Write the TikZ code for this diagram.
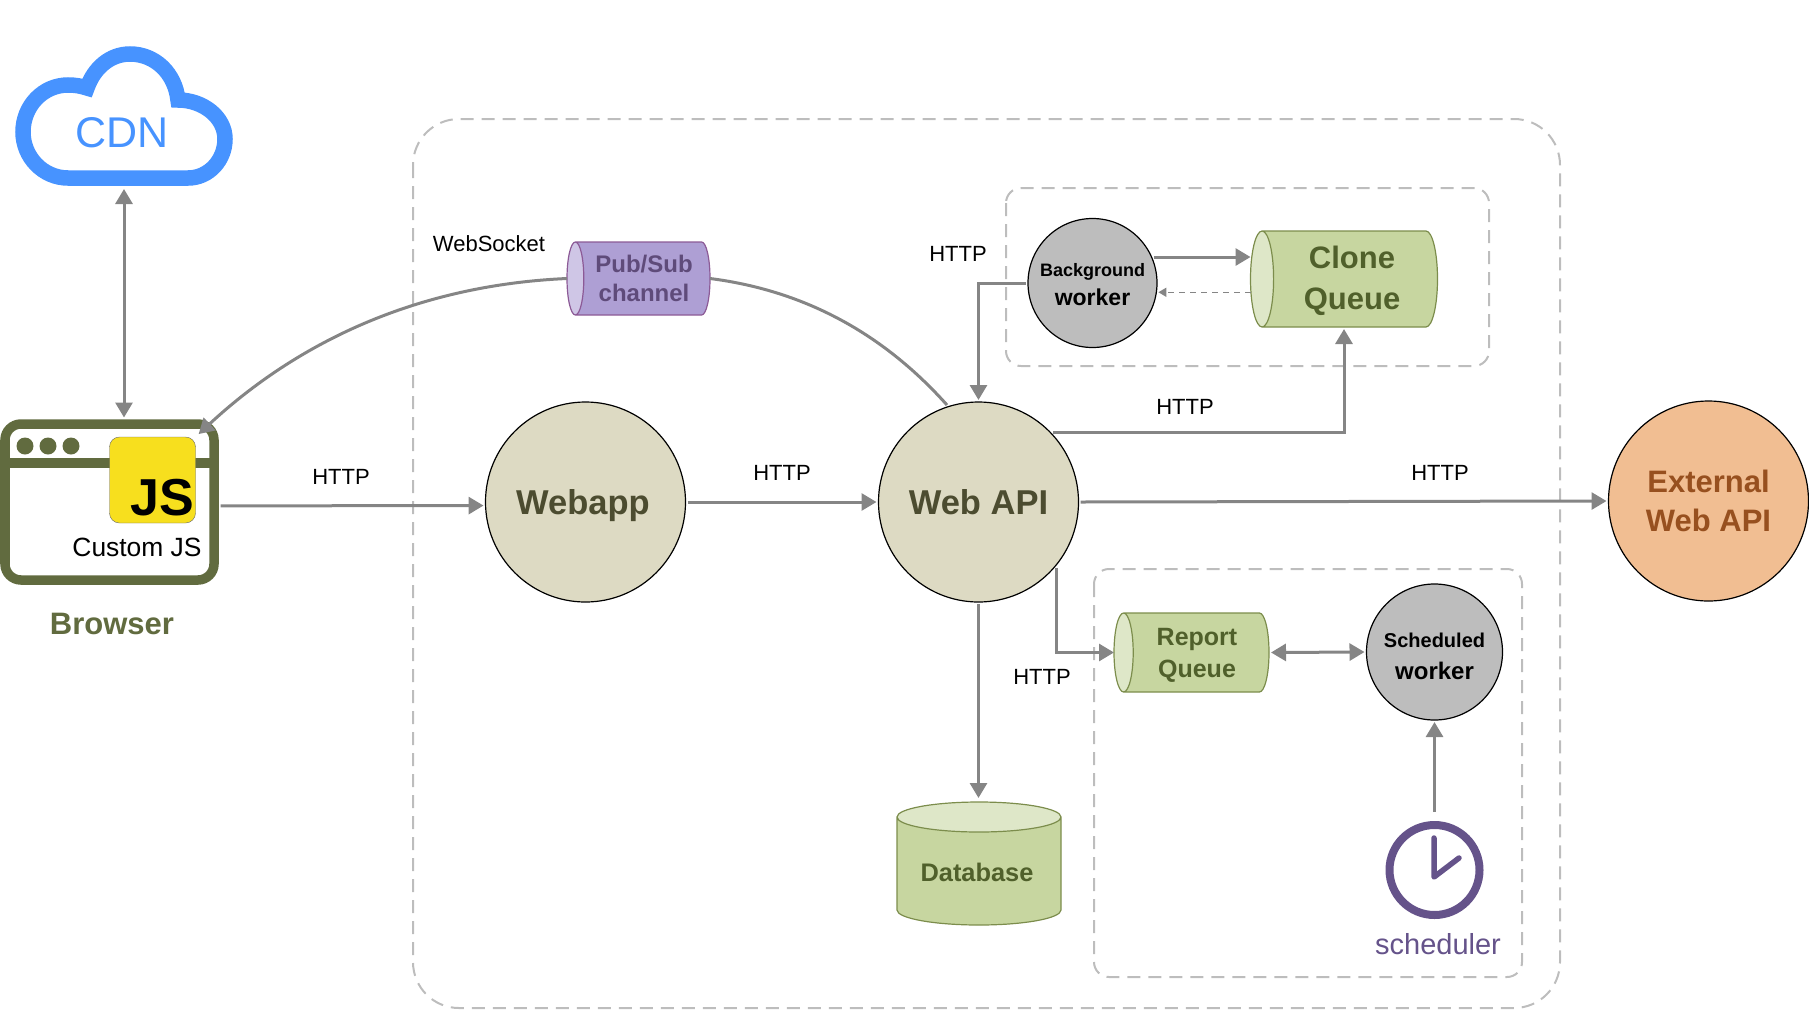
\documentclass[tikz,border=0pt]{standalone}
\usepackage{fontspec}
\setmainfont{Liberation Sans}
\usetikzlibrary{arrows.meta,shapes.geometric}

\definecolor{arrowgrey}{HTML}{858585}
\definecolor{boxgrey}{HTML}{BDBDBD}
\definecolor{cdnblue}{HTML}{4793FF}
\definecolor{browserolive}{HTML}{616B3F}
\definecolor{jsyellow}{HTML}{F7DF1E}
\definecolor{sandfill}{HTML}{DDDAC3}
\definecolor{sandtext}{HTML}{4C4C30}
\definecolor{peachfill}{HTML}{F1BE92}
\definecolor{peachtext}{HTML}{97501F}
\definecolor{greenfill}{HTML}{C7D6A0}
\definecolor{greenend}{HTML}{DEE7C8}
\definecolor{greenline}{HTML}{7C8D4C}
\definecolor{greentext}{HTML}{50602B}
\definecolor{purplefill}{HTML}{AE9FD4}
\definecolor{purpleend}{HTML}{CFC6E6}
\definecolor{purpleline}{HTML}{8C5A96}
\definecolor{purpletext}{HTML}{5F4B7A}
\definecolor{clockpurple}{HTML}{65538A}
\definecolor{workergrey}{HTML}{BDBDBD}

\tikzset{
	label/.style={inner sep=0pt,font=\fontsize{22}{26}\selectfont},
	flow/.style={draw=arrowgrey,line width=3pt,-{Triangle[length=15pt,width=17pt]}},
	biflow/.style={flow,{Triangle[length=15pt,width=17pt]}-{Triangle[length=15pt,width=17pt]}},
	groupbox/.style={draw=boxgrey,line width=2pt,dash pattern=on 13pt off 8pt},
	bigcircle/.style={circle,draw=black,line width=1.2pt,minimum size=200pt,inner sep=0pt,outer sep=2pt,align=center},
	workercircle/.style={circle,draw=black,line width=1.2pt,fill=workergrey,inner sep=0pt,outer sep=2pt},
	workertext/.style={inner sep=0pt,align=center},
	tube/.style={cylinder,anchor=shape center,draw=greenline,line width=1.2pt,inner sep=0pt,outer sep=0pt,
		cylinder uses custom fill,cylinder body fill=greenfill,cylinder end fill=greenend},
	tubetext/.style={inner sep=0pt,align=center,text=greentext},
}

\begin{document}
\begin{tikzpicture}[x=1pt,y=-1pt]
	\useasboundingbox (0,0) rectangle (1809,1010);

	%group boxes
	\draw[groupbox,rounded corners=46pt] (413,119) rectangle (1560,1008);
	\draw[groupbox,rounded corners=15pt] (1006,188) rectangle (1489,366);
	\draw[groupbox,rounded corners=15pt] (1094,569) rectangle (1522,977);

	%cloud
	\draw[cdnblue,line width=15.5pt,miter limit=10] (68,178)--(188,178)
		.. controls (209,178) and (225,160) .. (225,139)
		.. controls (225,117) and (203,100) .. (178,100)
		.. controls (175,73) and (155,54) .. (130,54)
		.. controls (110,54) and (94,68) .. (87,88)
		.. controls (81,86) and (75,85) .. (68,85)
		.. controls (43,85) and (23,106) .. (23,132)
		.. controls (23,157) and (43,178) .. (68,178) -- cycle;
	\node[inner sep=0pt,text=cdnblue,font=\fontsize{43}{48}\selectfont] (cdn) at (122,133) {CDN};
	\coordinate (cloudport) at (124,189);

	%browser
	\node[draw=browserolive,line width=9.5pt,rounded corners=16pt,minimum width=209pt,minimum height=156pt,
		inner sep=0pt,outer sep=6.5pt] (browser) at (109.5,502) {};
	\draw[browserolive,line width=9.5pt] (5,463)--(214,463);
	\fill[browserolive] (25,446) circle (8.5);
	\fill[browserolive] (48,446) circle (8.5);
	\fill[browserolive] (71,446) circle (8.5);
	\node[draw=black!60,fill=jsyellow,rounded corners=10pt,minimum size=86pt,inner sep=0pt] (jsbadge) at (152.5,480) {};
	\node[inner sep=0pt,font=\fontsize{52}{56}\selectfont\bfseries] (jstext) at (162,498) {JS};
	\node[inner sep=0pt,font=\fontsize{26.4}{30}\selectfont] (customjs) at (137,547) {Custom JS};
	\node[inner sep=0pt,text=browserolive,font=\fontsize{31}{36}\selectfont\bfseries] (browsername) at (112,624) {Browser};

	%main circles
	\node[bigcircle,fill=sandfill] (webapp) at (585.5,502) {};
	\node[inner sep=0pt,text=sandtext,text depth=0pt,font=\fontsize{34.5}{40}\selectfont\bfseries] (webapptext) at (583,502) {Webapp};
	\node[bigcircle,fill=sandfill,text=sandtext,font=\fontsize{34.5}{40}\selectfont\bfseries] (webapi) at (978.5,502) {Web API};
	\node[bigcircle,fill=peachfill,text=peachtext,font=\fontsize{31}{39.5}\selectfont\bfseries] (external) at (1708.5,501) {External\\Web API};

	%queues and store
	\node[tube,shape border rotate=180,aspect=0.33,minimum height=187pt,minimum width=96pt] (cloneq) at (1344,279) {\rule{0pt}{70pt}};
	\node[tubetext,font=\fontsize{31}{41}\selectfont\bfseries] (clonetext) at (1352,281) {Clone\\Queue};
	\node[tube,shape border rotate=180,aspect=0.32,minimum height=155pt,minimum width=79pt] (reportq) at (1191.5,652.5) {\rule{0pt}{60pt}};
	\node[tubetext,font=\fontsize{25}{32}\selectfont\bfseries] (reporttext) at (1197,655) {Report\\Queue};
	\node[tube,shape border rotate=90,aspect=0.3,minimum height=123pt,minimum width=164pt] (database) at (979,863.5) {\rule{100pt}{0pt}};
	\node[tubetext,font=\fontsize{25.4}{30}\selectfont\bfseries] (databasetext) at (977,872) {Database};
	\node[tube,shape border rotate=180,aspect=0.28,minimum height=143pt,minimum width=73pt,
		draw=purpleline,cylinder body fill=purplefill,cylinder end fill=purpleend] (pubsub) at (638.5,278.5) {\rule{0pt}{60pt}};
	\node[tubetext,text=purpletext,font=\fontsize{24}{29}\selectfont\bfseries] (pubsubtext) at (644,278) {Pub/Sub\\channel};

	%workers
	\node[workercircle,minimum size=129pt] (bgworker) at (1092.5,283) {};
	\node[workertext] (bgtext) at (1092.5,284.5) {\fontsize{18}{27}\selectfont\bfseries Background\\[8pt]\fontsize{23}{27}\selectfont\bfseries worker};
	\node[workercircle,minimum size=136pt] (schedworker) at (1434.5,652) {};
	\node[workertext] (schedtext) at (1434.5,656.5) {\fontsize{20}{30}\selectfont\bfseries Scheduled\\[13pt]\fontsize{24}{30}\selectfont\bfseries worker};

	%clock
	\node[circle,draw=clockpurple,line width=8pt,minimum size=90pt,inner sep=0pt,outer sep=13pt] (clock) at (1434.5,870) {};
	\draw[clockpurple,line width=5.5pt,line cap=round,line join=round] (1434,838)--(1434,877)--(1459,858);
	\node[inner sep=0pt,text=clockpurple,font=\fontsize{29}{34}\selectfont] (scheduler) at (1438,944) {scheduler};

	%arrows
	\draw[biflow] (cloudport)--(cloudport |- browser.north);
	\draw[flow] (browser.-2)--(webapp.182);
	\draw[flow] (webapp.east)--(webapi.west);
	\draw[flow] (webapi.east)--(external.west);
	\draw[flow,shorten >=2pt] (webapi.43) -| (cloneq.shape center |- cloneq.south);
	\draw[flow] (bgworker.west) -| (webapi.north);
	\draw[flow] (bgworker.23)--(bgworker.23 -| cloneq.west);
	\draw[flow,line width=1.5pt,dash pattern=on 6pt off 5pt,-{Triangle[length=8pt,width=9pt]}] (bgworker.-8 -| cloneq.west)--(bgworker.-8);
	\draw[flow] (webapi.-40) |- (reportq.west);
	\draw[biflow,shorten <=2pt] (reportq.east)--(schedworker.west);
	\draw[flow] (clock.north)--(schedworker.south);
	\draw[flow,shorten >=4pt] (webapi.south)--(webapi.south |- database.north);

	%websocket curves
	\draw[flow,shorten >=4pt] (pubsub.west) .. controls (420,285) and (300,340) .. (jsbadge.north east);
	\draw[draw=arrowgrey,line width=3pt] (pubsub.east) .. controls (800,290) and (880,330) .. (webapi.108);

	%http labels
	\node[label] (wslabel) at (489,244) {WebSocket};
	\node[label] (httpa) at (341,477) {HTTP};
	\node[label] (httpb) at (782,473) {HTTP};
	\node[label] (httpc) at (958,254) {HTTP};
	\node[label] (httpd) at (1185,407) {HTTP};
	\node[label] (httpe) at (1440,473) {HTTP};
	\node[label] (httpf) at (1042,677) {HTTP};
\end{tikzpicture}
\end{document}
